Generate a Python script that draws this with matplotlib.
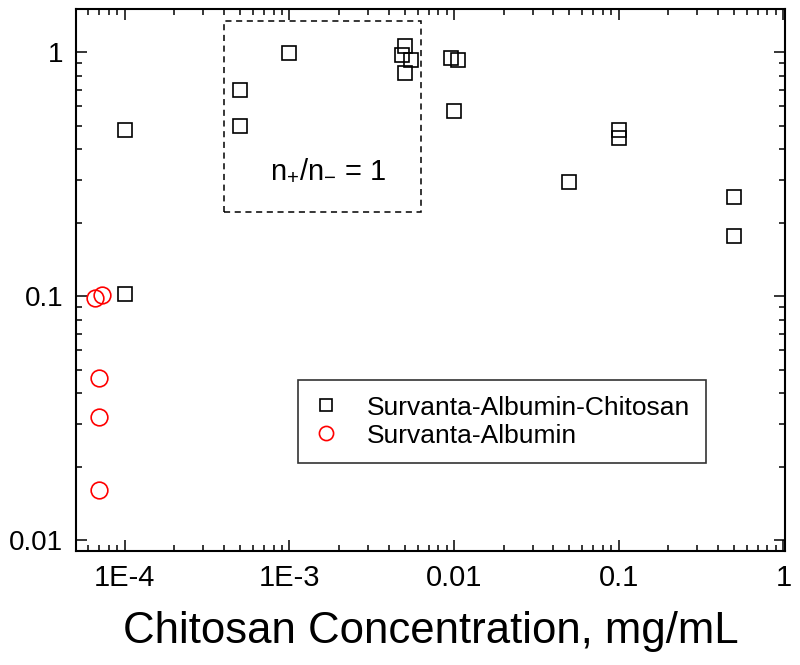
import matplotlib
matplotlib.use("Agg")
import matplotlib.pyplot as plt
from matplotlib.patches import Rectangle
from matplotlib.ticker import LogLocator, FixedLocator, FixedFormatter, NullFormatter

plt.rcParams["font.family"] = ["Liberation Sans", "DejaVu Sans"]
plt.rcParams["mathtext.fontset"] = "custom"
plt.rcParams["mathtext.rm"] = "Liberation Sans"
plt.rcParams["mathtext.it"] = "Liberation Sans"

# Survanta-Albumin-Chitosan (squares)
sac_conc = [1e-4, 1e-4, 5e-4, 5e-4, 1e-3, 0.005, 0.0048, 0.0055, 0.005,
            0.0096, 0.0105, 0.01, 0.05, 0.1, 0.1, 0.5, 0.5]
sac_val = [0.48, 0.102, 0.70, 0.50, 0.99, 1.06, 0.97, 0.93, 0.82,
           0.95, 0.93, 0.575, 0.295, 0.48, 0.447, 0.256, 0.176]

# Survanta-Albumin (circles)
sa_conc = [6.6e-5, 7.3e-5, 7.0e-5, 7.0e-5, 7.0e-5]
sa_val = [0.098, 0.101, 0.046, 0.032, 0.016]

xticks = [1e-4, 1e-3, 1e-2, 1e-1, 1]
xticklabels = ["1E-4", "1E-3", "0.01", "0.1", "1"]
yticks = [0.01, 0.1, 1]
yticklabels = ["0.01", "0.1", "1"]

# dashed box marking n+/n- = 1 (data coords)
box_x = (4.0e-4, 6.3e-3)
box_y = (0.221, 1.34)

fig = plt.figure(figsize=(8, 6.65), dpi=100)
ax = fig.add_axes([0.095, 0.171, 0.886, 0.815])
ax.set_xscale("log")
ax.set_yscale("log")

ax.plot(sac_conc, sac_val, linestyle="none", marker="s", markersize=10,
        markerfacecolor="none", markeredgecolor="black", markeredgewidth=1.2,
        label="Survanta-Albumin-Chitosan")
ax.plot(sa_conc, sa_val, linestyle="none", marker="o", markersize=12,
        markerfacecolor="none", markeredgecolor="red", markeredgewidth=1.2,
        label="Survanta-Albumin")

ax.add_patch(Rectangle((box_x[0], box_y[0]), box_x[1] - box_x[0], box_y[1] - box_y[0],
                       fill=False, linestyle=(0, (4, 3)), linewidth=1.1, edgecolor="black"))
ax.text(1.71e-3, 0.33, r"n$_{+}$/n$_{-}$ = 1", fontsize=21, ha="center", va="center")

ax.set_xlim(5.05e-5, 1.02)
ax.set_ylim(0.009, 1.5)

ax.xaxis.set_major_locator(FixedLocator(xticks))
ax.xaxis.set_major_formatter(FixedFormatter(xticklabels))
ax.yaxis.set_major_locator(FixedLocator(yticks))
ax.yaxis.set_major_formatter(FixedFormatter(yticklabels))
ax.xaxis.set_minor_locator(LogLocator(base=10, subs=range(2, 10)))
ax.yaxis.set_minor_locator(LogLocator(base=10, subs=range(2, 10)))
ax.xaxis.set_minor_formatter(NullFormatter())
ax.yaxis.set_minor_formatter(NullFormatter())

ax.tick_params(which="both", direction="in", top=True, right=True, width=1.1)
ax.tick_params(which="major", length=8, pad=9)
ax.tick_params(axis="x", which="major", labelsize=21)
ax.tick_params(axis="y", which="major", labelsize=20)
ax.tick_params(which="minor", length=4.5)
for sp in ax.spines.values():
    sp.set_linewidth(1.5)

ax.set_xlabel("Chitosan Concentration, mg/mL", fontsize=31.5, labelpad=14)

leg = ax.legend(loc="lower left", bbox_to_anchor=(0.313, 0.162), borderaxespad=0,
                fontsize=19, frameon=True, fancybox=False, edgecolor="black",
                borderpad=0.6, handletextpad=1.1, labelspacing=0.15,
                markerscale=0.85, handlelength=0.9)
leg.get_frame().set_linewidth(1.2)

fig.savefig("out.png", dpi=100)
